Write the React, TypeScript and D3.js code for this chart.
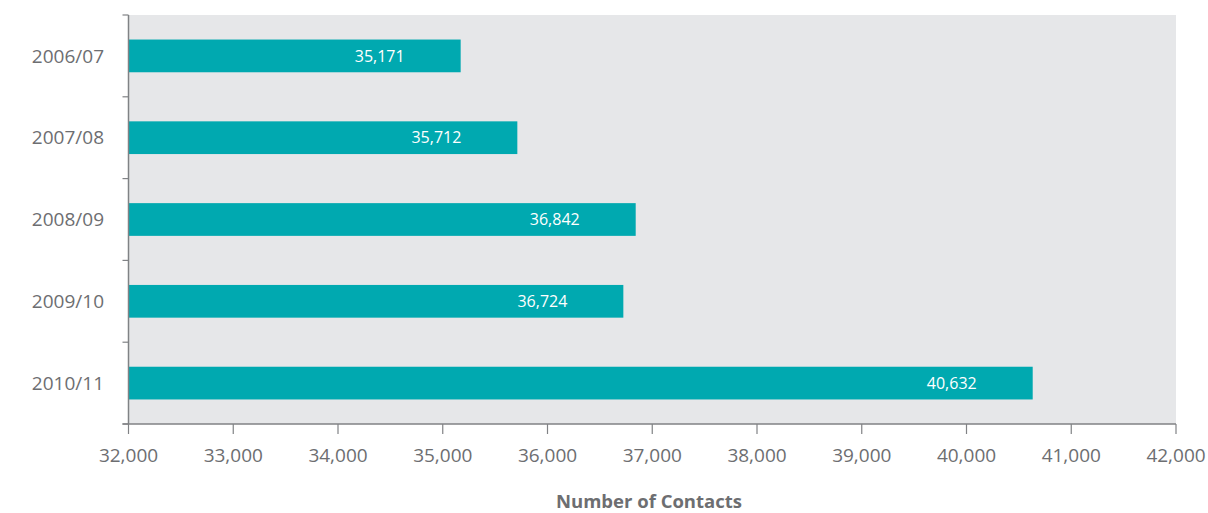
import React from "react";
import * as d3 from "d3";

const categories = ["2006/07", "2007/08", "2008/09", "2009/10", "2010/11"];
const values = [35171, 35712, 36842, 36724, 40632];
const xTicks = [32000, 33000, 34000, 35000, 36000, 37000, 38000, 39000, 40000, 41000, 42000];
const axisTitle = "Number of Contacts";

export default function App() {
  const W = 1208, H = 513;
  const left = 128.5, right = 1176, top = 15, bottom = 424;
  const x = d3.scaleLinear().domain([32000, 42000]).range([left, right]);
  const y = d3.scaleBand<string>().domain(categories).range([top, bottom]).paddingInner(0.6).paddingOuter(0.3);
  const band = d3.scaleBand<string>().domain(categories).range([top, bottom]);
  const fmt = d3.format(",");
  const font = "'Open Sans', 'DejaVu Sans', sans-serif";
  const grey = "#6d6e71";
  const boundaries = [top, ...categories.map((c) => (band(c) as number) + band.bandwidth())];
  return (
    <svg width={W} height={H} style={{ position: "absolute", left: 0, top: 0 }} fontFamily={font}>
      <rect x={left} y={top} width={right - left} height={bottom - top} fill="#e6e7e9" />
      {categories.map((c, i) => {
        const bx = x(32000);
        const bw = x(values[i]) - bx;
        const by = y(c) as number;
        const bh = y.bandwidth();
        return (
          <g key={c}>
            <rect x={bx} y={by} width={bw} height={bh} fill="#00a9b0" />
            <text x={x(values[i]) - 56} y={by + bh / 2} dy="0.35em" textAnchor="end" fill="#ffffff" fontSize={16}>
              {fmt(values[i])}
            </text>
            <text x={104} y={(band(c) as number) + band.bandwidth() / 2} dy="0.35em" textAnchor="end" fill={grey} fontSize={19}>
              {c}
            </text>
          </g>
        );
      })}
      <line x1={left} x2={left} y1={top} y2={bottom} stroke="#808285" strokeWidth={1.5} />
      {boundaries.map((b, i) => (
        <line key={i} x1={left - 6} x2={left} y1={b} y2={b} stroke="#808285" strokeWidth={1.2} />
      ))}
      <line x1={left - 6} x2={right} y1={bottom} y2={bottom} stroke="#808285" strokeWidth={1.5} />
      {xTicks.map((t) => (
        <g key={t}>
          <line x1={x(t)} x2={x(t)} y1={bottom} y2={bottom + 10} stroke="#808285" strokeWidth={1.2} />
          <text x={x(t)} y={455} dy="0.35em" textAnchor="middle" fill={grey} fontSize={19}>
            {fmt(t)}
          </text>
        </g>
      ))}
      <text x={649} y={502} dy="0.35em" textAnchor="middle" fill={grey} fontSize={18.5} fontWeight="bold">
        {axisTitle}
      </text>
    </svg>
  );
}
